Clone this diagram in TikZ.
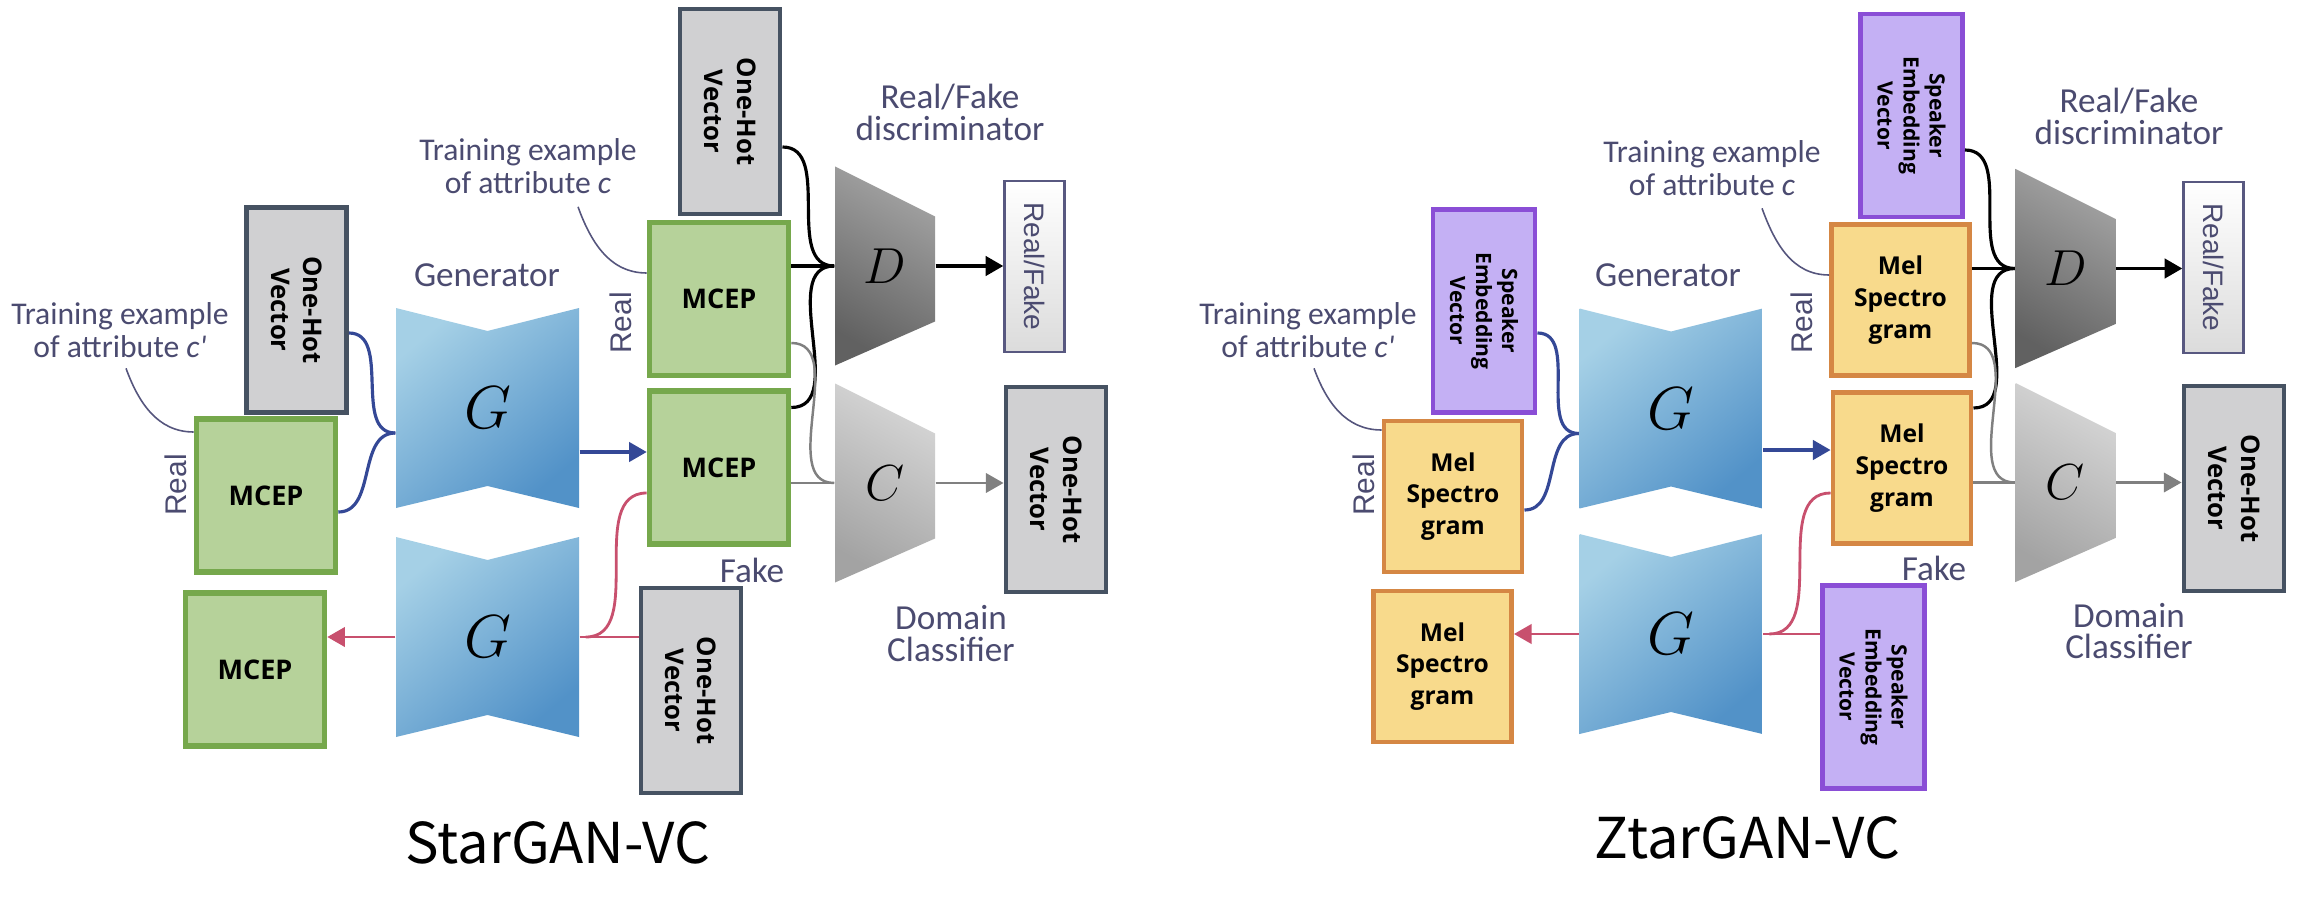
\documentclass[tikz,border=0pt]{standalone}
\usepackage{fontspec}
\setmainfont{Carlito}
\newfontfamily\boxfont{Open Sans}
\newfontfamily\arialfont{Liberation Sans}
\newfontfamily\titlefont{Noto Sans CJK KR}
\usepackage{tikz}
\usetikzlibrary{arrows.meta}

\definecolor{txtc}{RGB}{75,75,112}
\definecolor{leadc}{RGB}{85,85,125}
\definecolor{bluec}{RGB}{52,72,150}
\definecolor{redc}{RGB}{200,80,110}
\definecolor{grayc}{RGB}{128,128,128}
\definecolor{ohfill}{RGB}{208,208,210}
\definecolor{ohline}{RGB}{70,82,98}
\definecolor{mcepfill}{RGB}{182,210,154}
\definecolor{mcepline}{RGB}{118,168,76}
\definecolor{melfill}{RGB}{248,218,140}
\definecolor{melline}{RGB}{213,135,68}
\definecolor{spkfill}{RGB}{196,176,244}
\definecolor{spkline}{RGB}{138,78,214}
\definecolor{rfline}{RGB}{88,88,128}
\definecolor{genA}{RGB}{165,208,230}
\definecolor{genC}{RGB}{82,146,200}

\tikzset{
  box/.style={draw, line width=1.4pt, inner sep=0pt},
  vtxt/.style={rotate=-90, anchor=center, align=center, inner sep=0pt},
  oh/.style={box, fill=ohfill, draw=ohline, minimum width=1cm, minimum height=2.05cm,
    label={[vtxt, font=\boxfont\bfseries\fontsize{7.3}{9.2}\selectfont]center:{One-Hot\\Vector}}},
  spk/.style={box, fill=spkfill, draw=spkline, minimum width=1.02cm, minimum height=2.03cm,
    label={[vtxt, font=\boxfont\bfseries\fontsize{6}{7.4}\selectfont]center:{Speaker\\Embedding\\Vector}}},
  mcep/.style={box, fill=mcepfill, draw=mcepline, line width=1.6pt, minimum width=1.39cm,
    minimum height=1.53cm, font=\boxfont\bfseries\fontsize{7.7}{9}\selectfont},
  mel/.style={box, fill=melfill, draw=melline, minimum width=1.38cm, minimum height=1.51cm,
    align=center, font=\boxfont\bfseries\fontsize{7}{9}\selectfont},
  rf/.style={box, draw=rfline, line width=0.7pt, top color=white, bottom color=black!14,
    minimum width=0.6cm, minimum height=1.71cm,
    label={[vtxt, text=txtc, font=\arialfont\fontsize{8}{9}\selectfont]center:Real/Fake}},
  gen/.style={minimum width=1.83cm, minimum height=2cm, inner sep=0pt, font=\fontsize{16}{16}\selectfont,
    path picture={\shade[top color=genA, bottom color=genC, shading angle=40]
      (path picture bounding box.north west) -- ([yshift=-0.23cm]path picture bounding box.north)
      -- (path picture bounding box.north east) -- (path picture bounding box.south east)
      -- ([yshift=0.22cm]path picture bounding box.south) -- (path picture bounding box.south west) -- cycle;}},
  trap/.style n args={3}{minimum width=1cm, minimum height=1.99cm, inner sep=0pt,
    font=\fontsize{14}{14}\selectfont,
    path picture={\shade[top color=#1, bottom color=#2, shading angle=#3]
      (path picture bounding box.north west) -- ([yshift=-0.5cm]path picture bounding box.north east)
      -- ([yshift=0.44cm]path picture bounding box.south east) -- (path picture bounding box.south west) -- cycle;}},
  dnet/.style={trap={black!36}{black!62}{-30}},
  cnet/.style={trap={black!16}{black!36}{-30}},
  lbl/.style={text=txtc, align=center, inner sep=0pt, font=\fontsize{10}{9}\selectfont},
  tlbl/.style={lbl, font=\fontsize{9}{9.4}\selectfont},
  reallbl/.style={text=txtc, rotate=90, inner sep=0pt, font=\arialfont\fontsize{8.5}{10}\selectfont},
  ttl/.style={inner sep=0pt, font=\titlefont\fontsize{16}{18}\selectfont},
  lead/.style={draw=leadc, line width=0.45pt},
  bl/.style={draw=bluec, line width=0.9pt},
  rd/.style={draw=redc, line width=0.8pt},
  bk/.style={draw=black, line width=0.9pt},
  gy/.style={draw=grayc, line width=0.7pt},
  arr/.style={-{Triangle[length=5pt,width=5.5pt]}}
}

\begin{document}
\begin{tikzpicture}
    \path[fill=white, use as bounding box] (0,0) rectangle (23.06,-8.98);

    % StarGAN-VC
    \node[oh] (ohA) at (2.965,-3.10) {};
    \node[mcep] (mcpA) at (2.66,-4.955) {MCEP};
    \node[mcep] (mcpE) at (2.55,-6.695) {MCEP};
    \node[gen] (genA) at (4.875,-4.08) {$G$};
    \node[gen] (genB) at (4.875,-6.37) {$G$};
    \node[oh] (ohB) at (7.30,-1.115) {};
    \node[mcep] (mcpB) at (7.19,-2.99) {MCEP};
    \node[mcep] (mcpC) at (7.19,-4.675) {MCEP};
    \node[oh] (ohD) at (6.91,-6.905) {};
    \node[dnet] (disA) at (8.85,-2.66) {$D$};
    \node[cnet] (clsA) at (8.85,-4.83) {$C$};
    \node[rf] (rfA) at (10.345,-2.665) {};
    \node[oh] (ohC) at (10.56,-4.895) {};

    \node[tlbl] (trA) at (1.20,-3.30) {Training example\\of attribute \textit{c\textquotesingle}};
    \node[reallbl] (reA) at (1.76,-4.85) {Real};
    \node[lbl] (gnA) at (4.87,-2.75) {Generator};
    \node[tlbl] (trB) at (5.28,-1.665) {Training example\\of attribute \textit{c}};
    \node[reallbl] (reB) at (6.21,-3.23) {Real};
    \node[lbl] (fkA) at (7.52,-5.70) {Fake};
    \node[lbl] (rdA) at (9.50,-1.125) {Real/Fake\\discriminator};
    \node[lbl] (dcA) at (9.51,-6.335) {Domain\\Classifier};
    \node[ttl] (ttA) at (5.58,-8.43) {StarGAN-VC};

    \draw[lead] ([xshift=0.06cm,yshift=-0.1cm]trA.south) to[out=-70,in=180] ([yshift=0.635cm]mcpA.west);
    \draw[lead] ([xshift=0.5cm,yshift=-0.12cm]trB.south) to[out=-70,in=180] ([yshift=0.26cm]mcpB.west);
    \draw[bl] ([yshift=-0.23cm]ohA.east) to[out=0,in=180] ([yshift=-0.25cm]genA.west);
    \draw[bl] ([yshift=-0.165cm]mcpA.east) to[out=0,in=180] ([yshift=-0.25cm]genA.west);
    \draw[bl,arr] ([yshift=-0.44cm]genA.east) -- ([yshift=-0.44cm]genA.east -| mcpC.west);
    \draw[rd,arr] (genB.west) -- (genB.west -| mcpE.east);
    \draw[rd] (genB.east) -- (genB.east -| ohD.west);
    \draw[rd] ([xshift=0.06cm]genB.east) to[out=0,in=180] ([yshift=-0.255cm]mcpC.west);
    \draw[bk] ([yshift=-0.355cm]ohB.east) to[out=0,in=180] (disA.west);
    \draw[bk] (disA.west -| mcpB.east) -- (disA.west);
    \draw[bk] ([yshift=0.6cm]mcpC.east) to[out=0,in=180] (disA.west);
    \draw[gy] ([yshift=-0.44cm]mcpB.east) to[out=0,in=180] (clsA.west);
    \draw[gy] (clsA.west -| mcpC.east) -- (clsA.west);
    \draw[bk,arr] (disA.east) -- (disA.east -| rfA.west);
    \draw[gy,arr] (clsA.east) -- (clsA.east -| ohC.west);

    % ZtarGAN-VC
    \node[spk] (spkA) at (14.84,-3.11) {};
    \node[mel] (melA) at (14.53,-4.965) {Mel\\Spectro\\gram};
    \node[mel] (melE) at (14.425,-6.665) {Mel\\Spectro\\gram};
    \node[gen] (genC) at (16.71,-4.085) {$G$};
    \node[gen] (genD) at (16.71,-6.34) {$G$};
    \node[spk] (spkB) at (19.115,-1.155) {};
    \node[mel] (melB) at (19.005,-3.00) {Mel\\Spectro\\gram};
    \node[mel] (melC) at (19.02,-4.68) {Mel\\Spectro\\gram};
    \node[spk] (spkD) at (18.735,-6.87) {};
    \node[dnet] (disB) at (20.655,-2.685) {$D$};
    \node[cnet] (clsB) at (20.655,-4.825) {$C$};
    \node[rf] (rfB) at (22.135,-2.675) {};
    \node[oh] (ohE) at (22.34,-4.885) {};

    \node[tlbl] (trC) at (13.08,-3.30) {Training example\\of attribute \textit{c\textquotesingle}};
    \node[reallbl] (reC) at (13.64,-4.85) {Real};
    \node[lbl] (gnB) at (16.68,-2.75) {Generator};
    \node[tlbl] (trD) at (17.12,-1.68) {Training example\\of attribute \textit{c}};
    \node[reallbl] (reD) at (18.02,-3.23) {Real};
    \node[lbl] (fkB) at (19.34,-5.68) {Fake};
    \node[lbl] (rdB) at (21.29,-1.165) {Real/Fake\\discriminator};
    \node[lbl] (dcB) at (21.29,-6.31) {Domain\\Classifier};
    \node[ttl] (ttB) at (17.47,-8.38) {ZtarGAN-VC};

    \draw[lead] ([xshift=0.06cm,yshift=-0.1cm]trC.south) to[out=-70,in=180] ([yshift=0.665cm]melA.west);
    \draw[lead] ([xshift=0.5cm,yshift=-0.12cm]trD.south) to[out=-70,in=180] ([yshift=0.25cm]melB.west);
    \draw[bl] ([yshift=-0.22cm]spkA.east) to[out=0,in=180] ([yshift=-0.25cm]genC.west);
    \draw[bl] ([yshift=-0.135cm]melA.east) to[out=0,in=180] ([yshift=-0.25cm]genC.west);
    \draw[bl,arr] ([yshift=-0.415cm]genC.east) -- ([yshift=-0.415cm]genC.east -| melC.west);
    \draw[rd,arr] (genD.west) -- (genD.west -| melE.east);
    \draw[rd] (genD.east) -- (genD.east -| spkD.west);
    \draw[rd] ([xshift=0.06cm]genD.east) to[out=0,in=180] ([yshift=-0.25cm]melC.west);
    \draw[bk] ([yshift=-0.345cm]spkB.east) to[out=0,in=180] (disB.west);
    \draw[bk] (disB.west -| melB.east) -- (disB.west);
    \draw[bk] ([yshift=0.6cm]melC.east) to[out=0,in=180] (disB.west);
    \draw[gy] ([yshift=-0.43cm]melB.east) to[out=0,in=180] (clsB.west);
    \draw[gy] (clsB.west -| melC.east) -- (clsB.west);
    \draw[bk,arr] (disB.east) -- (disB.east -| rfB.west);
    \draw[gy,arr] (clsB.east) -- (clsB.east -| ohE.west);
\end{tikzpicture}
\end{document}
